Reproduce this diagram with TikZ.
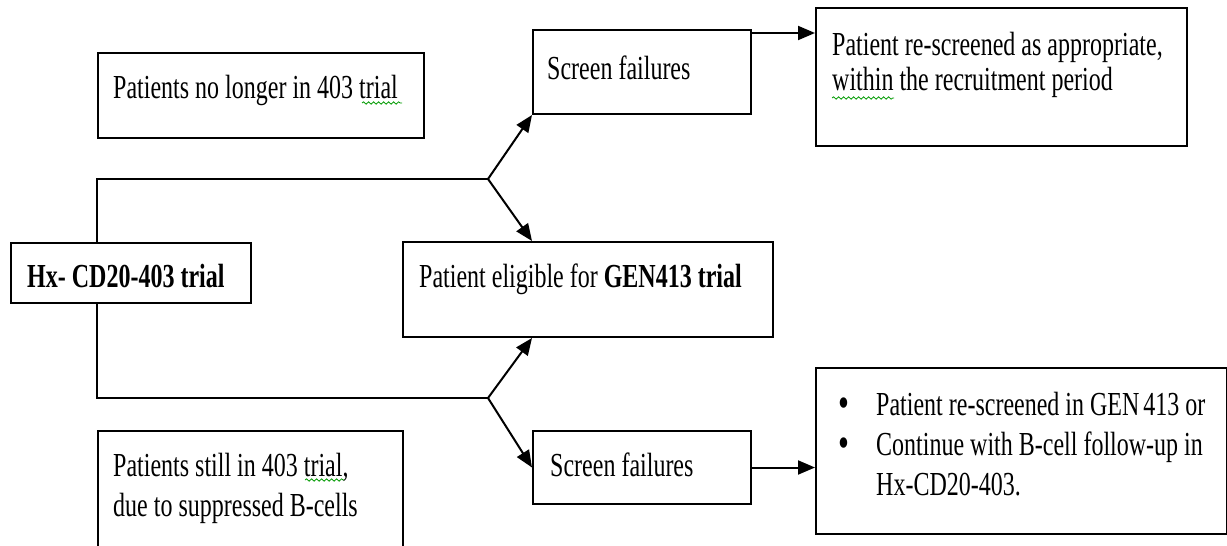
\documentclass[tikz,border=0pt]{standalone}
\usepackage{graphicx}
\usepackage{fontspec}
\setmainfont{Liberation Serif}
\usetikzlibrary{arrows.meta, shapes, decorations.pathmorphing}
\tikzstyle{box} = [rectangle, draw=black, line width=2pt, anchor=north west, inner sep=0pt]
\tikzstyle{txt} = [anchor=north west, inner sep=0pt, align=left, font=\fontsize{24}{40}\selectfont]
\tikzstyle{link} = [line width=2pt]
\tikzset{flowarrow/.style={line width=2pt, -{Triangle[length=17pt, width=14pt]}}}
\tikzset{squiggle/.style={green!60!black, line width=0.8pt, decorate, decoration={snake, amplitude=1.2pt, segment length=5pt}}}
\newcommand{\txtline}[1]{\scalebox{1}[1.4]{#1}}
\newcommand{\bulletcol}{\makebox[38pt][l]{\raisebox{-1.5pt}{\scalebox{1.3}{\textbullet}}}}

\begin{document}
\begin{tikzpicture}[x=1pt, y=1pt, yscale=-1]
\useasboundingbox (0,0) rectangle (1227,546);

% boxes
\node at (97,52) (nolonger) [box, minimum width=326pt, minimum height=85pt] {};
\node at (10,242) (hx) [box, minimum width=240pt, minimum height=60pt] {};
\node at (532,29) (scrtop) [box, minimum width=218pt, minimum height=84pt] {};
\node at (815,7) (rtop) [box, minimum width=371pt, minimum height=138pt] {};
\node at (402,241) (elig) [box, minimum width=370pt, minimum height=95pt] {};
\node at (97,430) (still) [box, minimum width=305pt, minimum height=130pt] {};
\node at (532,430) (scrbot) [box, minimum width=218pt, minimum height=73pt] {};
\node at (815,367) (rbot) [box, minimum width=411pt, minimum height=166pt] {};

% texts
\node at (113,75) (nolongertxt) [txt] {\txtline{Patients no longer in 403 trial}};
\node at (27,264) (hxtxt) [txt] {\txtline{\textbf{Hx- CD20-403 trial}}};
\node at (547,56) (scrtoptxt) [txt] {\txtline{Screen failures}};
\node at (832,32) (rtoptxt) [txt] {\txtline{Patient re-screened as appropriate,}\\[-5pt]
  \txtline{within the recruitment period}};
\node at (419,264) (eligtxt) [txt] {\txtline{Patient eligible for \textbf{GEN413 trial}}};
\node at (113,453) (stilltxt) [txt] {\txtline{Patients still in 403 trial,}\\
  \txtline{due to suppressed B-cells}};
\node at (550,453) (scrbottxt) [txt] {\txtline{Screen failures}};
\node at (838,392) (rbottxt) [txt] {\txtline{\bulletcol Patient re-screened in GEN\,413 or}\\
  \txtline{\bulletcol Continue with B-cell follow-up in}\\
  \txtline{\hphantom{\bulletcol}Hx-CD20-403.}};

% connectors
\coordinate (ju) at (97,179);
\coordinate (jl) at (97,398);
\coordinate (bu) at (488,179);
\coordinate (bl) at (488,398);
\coordinate (atop) at (750,33);
\draw[link] (ju |- hx.north) -- (ju) -- (bu);
\draw[link] (jl |- hx.south) -- (jl) -- (bl);
\draw[flowarrow] (bu) -- (scrtop.south west);
\draw[flowarrow] (bu) -- (scrtop.south west |- elig.north);
\draw[flowarrow] (bl) -- (scrtop.south west |- elig.south);
\draw[flowarrow] (bl) -- (scrbot.west);
\draw[flowarrow] (atop -| scrtop.east) -- (atop -| rtop.west);
\draw[flowarrow] (scrbot.east) -- (scrbot.east -| rbot.west);

% spelling marks
\draw[squiggle] (362,103) -- (402,103);
\draw[squiggle] (305,480) -- (344,480);
\draw[squiggle] (832,98) -- (894,98);

\end{tikzpicture}
\end{document}
